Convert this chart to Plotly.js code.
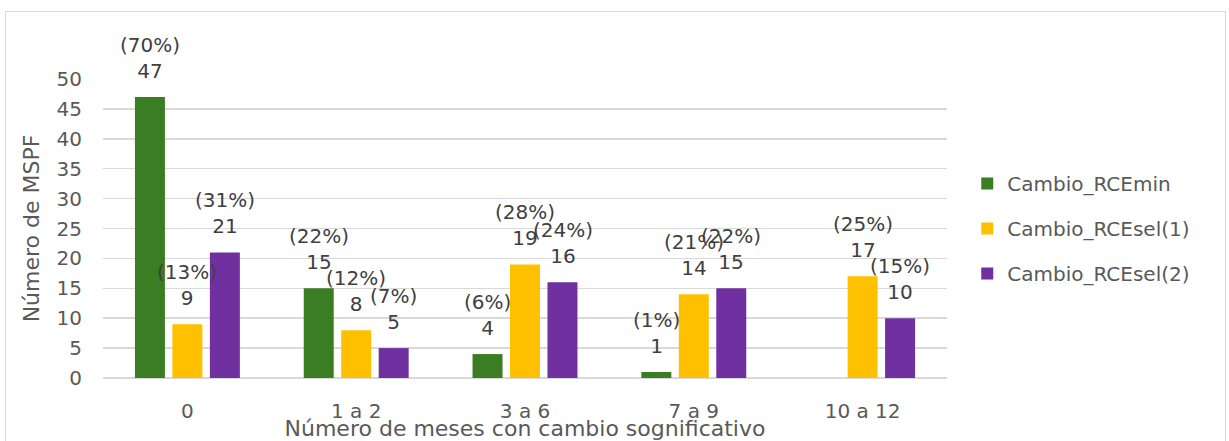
<!DOCTYPE html>
<html>
<head>
<meta charset="utf-8">
<script src="https://cdn.plot.ly/plotly-3.0.1.min.js"></script>
<style>
  html, body { margin: 0; padding: 0; background: #fff; }
  #chart { position: absolute; left: 0; top: 0; width: 1229px; height: 441px; }
  #frame { position: absolute; left: 5px; top: 11px; width: 1219px; height: 440px;
           border: 1px solid #d9d9d9; border-bottom: none; pointer-events: none; z-index: 10; }
</style>
</head>
<body>
<div id="chart"></div>
<div id="frame"></div>
<script>
const categories = ["0", "1 a 2", "3 a 6", "7 a 9", "10 a 12"];
const seriesNames = ["Cambio_RCEmin", "Cambio_RCEsel(1)", "Cambio_RCEsel(2)"];
const rceMin   = [47, 15, 4, 1, null];
const rceSel1  = [9, 8, 19, 14, 17];
const rceSel2  = [21, 5, 16, 15, 10];
const pctMin   = ["70%", "22%", "6%", "1%", null];
const pctSel1  = ["13%", "12%", "28%", "21%", "25%"];
const pctSel2  = ["31%", "7%", "24%", "22%", "15%"];
const yTicks   = [0, 5, 10, 15, 20, 25, 30, 35, 40, 45, 50];

const colors = ["#3a7d22", "#ffc000", "#7030a0"];
const FONT = "DejaVu Sans, sans-serif";
const values = [rceMin, rceSel1, rceSel2];
const pcts = [pctMin, pctSel1, pctSel2];

const traces = values.map((vals, i) => ({
  type: "bar",
  name: seriesNames[i],
  x: categories,
  y: vals,
  marker: { color: colors[i] },
  legendgroup: "g" + i,
  hoverinfo: "skip"
}));

const slot = 37.5;
const annotations = [];
values.forEach((vals, i) => {
  vals.forEach((v, j) => {
    if (v === null) return;
    annotations.push({
      x: categories[j], y: v, xref: "x", yref: "y",
      text: "(" + pcts[i][j] + ")<br>" + v,
      showarrow: false, yanchor: "bottom", xanchor: "center",
      xshift: (i - 1) * slot, yshift: 12,
      font: { family: FONT, size: 20, color: "#404040" }
    });
  });
});

const layout = {
  width: 1229, height: 441,
  margin: { l: 103, r: 282, t: 79, b: 63 },
  paper_bgcolor: "#ffffff", plot_bgcolor: "#ffffff",
  barmode: "group", bargap: 0.334, bargroupgap: 0.2,
  font: { family: FONT, size: 20, color: "#595959" },
  xaxis: {
    type: "category",
    showgrid: false, zeroline: false, showline: false,
    ticks: "", ticklabelstandoff: 19,
    tickfont: { family: FONT, size: 20, color: "#595959" },
    title: { text: "Número de meses con cambio sognificativo", font: { family: FONT, size: 22, color: "#595959" }, standoff: 0 },
    automargin: false
  },
  yaxis: {
    range: [0, 50], tickvals: yTicks, ticktext: yTicks.map(String),
    showgrid: true, gridcolor: "#d9d9d9", gridwidth: 1.5,
    zeroline: true, zerolinecolor: "#d9d9d9", zerolinewidth: 1.5,
    showline: false, ticks: "", ticklabelstandoff: 20,
    tickfont: { family: FONT, size: 20, color: "#595959" },
    title: { text: "Número de MSPF", font: { family: FONT, size: 22, color: "#595959" }, standoff: 10 },
    automargin: true
  },
  legend: {
    x: 1.024, xanchor: "left", y: 0.5, yanchor: "middle",
    font: { family: FONT, size: 20, color: "#595959" },
    tracegroupgap: 16, traceorder: "grouped", bgcolor: "rgba(0,0,0,0)"
  },
  showlegend: true,
  annotations: annotations
};

Plotly.newPlot("chart", traces, layout, { displayModeBar: false, staticPlot: true });
</script>
</body>
</html>
